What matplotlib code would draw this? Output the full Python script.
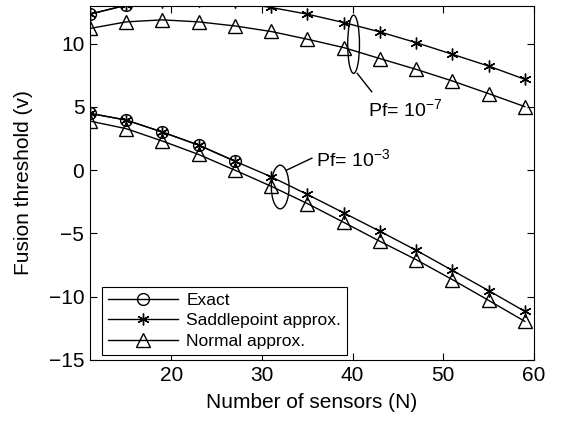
import matplotlib
matplotlib.use("Agg")
import matplotlib.pyplot as plt
from matplotlib.patches import Ellipse

plt.rcParams['font.family'] = ['Liberation Sans', 'DejaVu Sans']
plt.rcParams['mathtext.fontset'] = 'custom'
plt.rcParams['mathtext.rm'] = 'Liberation Sans'

N = [11, 15, 19, 23, 27, 31, 35, 39, 43, 47, 51, 55, 59]

# Pf = 1e-7
exact7_N = [11, 15]
exact7 = [12.33, 13.03]
saddle7 = [12.33, 13.05, 13.30, 13.35, 13.26, 12.86, 12.33, 11.67, 10.93, 10.08, 9.16, 8.23, 7.18]
normal7 = [11.20, 11.72, 11.88, 11.72, 11.40, 10.96, 10.35, 9.69, 8.82, 7.97, 7.05, 6.05, 5.02]

# Pf = 1e-3
exact3_N = [11, 15, 19, 23, 27]
exact3 = [4.49, 3.96, 3.01, 1.98, 0.71]
saddle3 = [4.49, 3.96, 3.01, 1.98, 0.71, -0.52, -1.92, -3.37, -4.83, -6.33, -7.92, -9.52, -11.16]
normal3 = [3.88, 3.28, 2.30, 1.24, 0.00, -1.27, -2.64, -4.12, -5.62, -7.07, -8.65, -10.29, -11.95]

fig = plt.figure(figsize=(5.62, 4.21), dpi=100)
ax = fig.add_axes([0.160, 0.145, 0.790, 0.8415])

star = (6, 2, 0)
kw = dict(color='black', lw=1.0, mfc='none', mec='black')
ax.plot(exact7_N, exact7, marker='o', ms=8.5, label='Exact', **kw)
ax.plot(exact3_N, exact3, marker='o', ms=8.5, **kw)
ax.plot(N, saddle7, marker=star, ms=8.5, mew=1.0, label='Saddlepoint approx.', **kw)
ax.plot(N, saddle3, marker=star, ms=8.5, mew=1.0, **kw)
ax.plot(N, normal7, marker='^', ms=9.5, label='Normal approx.', **kw)
ax.plot(N, normal3, marker='^', ms=9.5, **kw)

ax.add_patch(Ellipse((40.1, 9.95), 1.3, 4.6, fill=False, ec='black', lw=1.0))
ax.plot([40.5, 42.1], [7.65, 6.2], color='black', lw=1.0)
ax.text(41.7, 4.8, r'Pf= 10$^{-7}$', fontsize=14, va='center', ha='left')

ax.add_patch(Ellipse((32.0, -1.33), 1.95, 3.45, fill=False, ec='black', lw=1.0))
ax.plot([32.7, 35.5], [0.0, 0.95], color='black', lw=1.0)
ax.text(36.0, 0.85, r'Pf= 10$^{-3}$', fontsize=14, va='center', ha='left')

ax.set_xlim(11, 60)
ax.set_ylim(-15, 13)
ax.set_xticks([20, 30, 40, 50, 60])
ax.set_yticks([-15, -10, -5, 0, 5, 10])
ax.set_yticklabels(['\u221215', '\u221210', '\u22125', '0', '5', '10'])
ax.tick_params(direction='in', top=True, right=True, labelsize=15, length=5, width=0.8, pad=4)
for s in ax.spines.values():
    s.set_linewidth(0.8)
ax.set_xlabel('Number of sensors (N)', fontsize=15, labelpad=6)
ax.set_ylabel('Fusion threshold (v)', fontsize=15, labelpad=11)

leg = ax.legend(loc='lower left', bbox_to_anchor=(0.02, 0.005), fontsize=12.5,
                frameon=True, fancybox=False, edgecolor='black', framealpha=1,
                handlelength=4.0, borderpad=0.35, labelspacing=0.3, handletextpad=0.5,
                borderaxespad=0.2)
leg.get_frame().set_linewidth(0.8)

fig.savefig('out.png', dpi=100)
